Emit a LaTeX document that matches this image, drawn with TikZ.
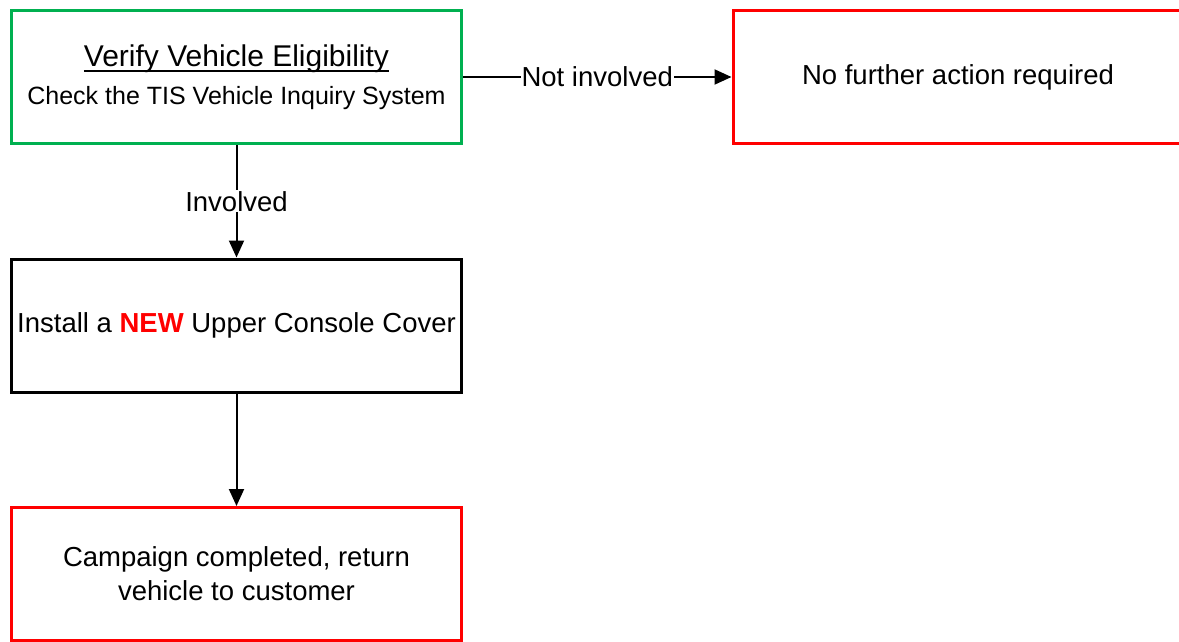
\documentclass[tikz,border=0pt]{standalone}
\usepackage{fontspec}
\setmainfont{Liberation Sans}
\newcommand\myuline[1]{\setbox0=\hbox{#1}\rlap{\rule[-6pt]{\wd0}{2pt}}\box0}
\usetikzlibrary{arrows.meta}
\definecolor{boxgreen}{RGB}{0,176,80}
\definecolor{boxred}{RGB}{255,0,0}
\begin{document}
\begin{tikzpicture}[x=1pt,y=-1pt,
  box/.style={draw,line width=3pt,rectangle,minimum width=450pt,minimum height=133pt,inner sep=0pt,align=center,font=\fontsize{27.5}{34}\selectfont},
  conn/.style={line width=2pt,-{Triangle[length=17pt,width=15pt]}},
  lab/.style={fill=white,inner sep=1pt,font=\fontsize{27.5}{30}\selectfont}]
\useasboundingbox (0,0) rectangle (1179,642);
\clip (0,0) rectangle (1179,642);
\fill[white] (0,0) rectangle (1179,642);
\node[box,draw=boxgreen] (verify) at (236.5,77) {{\fontsize{30}{38}\selectfont\myuline{Verify Vehicle Eligibility}}\\[4pt]{\fontsize{25}{30}\selectfont Check the TIS Vehicle Inquiry System}};
\node[box,draw=boxred] (nofurther) at (958,77) {No further action required};
\node[box,draw=black] (install) at (236.5,325.5) {Install a \textcolor{boxred}{\textbf{NEW}} Upper Console Cover};
\node[box,draw=boxred] (done) at (236.5,574) {Campaign completed, return\\vehicle to customer};
\draw[conn] (verify.east) -- node[lab]{Not involved} (nofurther.west);
\draw[conn] (verify.south) -- node[lab]{Involved} (install.north);
\draw[conn] (install.south) -- (done.north);
\end{tikzpicture}
\end{document}
